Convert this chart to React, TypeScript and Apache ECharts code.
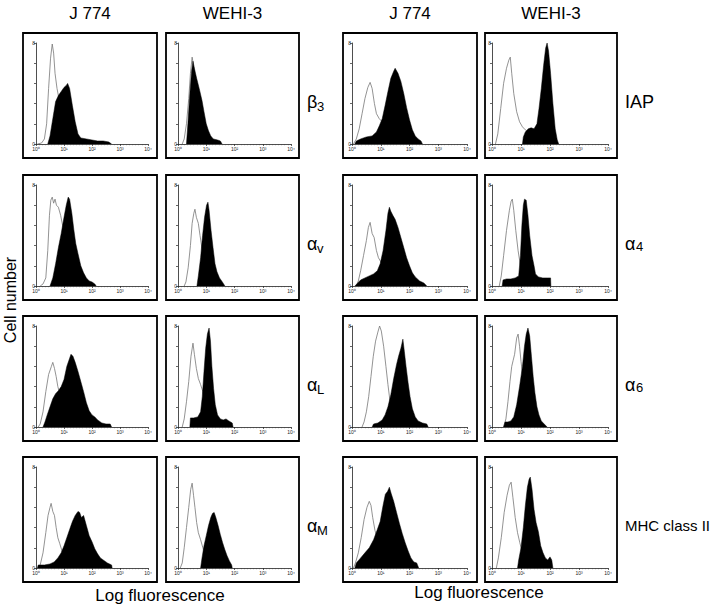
import React, { useEffect, useRef } from 'react';
import * as echarts from 'echarts';

const columnTitles = ['J 774', 'WEHI-3', 'J 774', 'WEHI-3'];
const rowMarkerBase = ['β', 'α', 'α', 'α'];
const rowMarkerSub = ['3', 'v', 'L', 'M'];
const rightMarkerBase = ['IAP', 'α', 'α', 'MHC class II'];
const rightMarkerSub = ['', '4', '6', ''];
const xTickLabels = ['10⁰', '10¹', '10²', '10³', '10⁴'];
const yTopLabel = '8';
const yBottomLabel = '0';
const xTitle = 'Log fluorescence';
const yTitle = 'Cell number';

// x = log decade (0..4), y = relative cell count (0..100)
// Row 1
const j774B3Ctrl = [[0.05,0],[0.2,1],[0.3,5],[0.38,20],[0.45,55],[0.52,85],[0.58,99],[0.63,90],[0.68,70],[0.75,55],[0.82,45],[0.9,35],[1.0,22],[1.1,12],[1.2,6],[1.4,2],[1.6,0]];
const j774B3Stain = [[0.42,0],[0.5,8],[0.6,25],[0.7,42],[0.8,48],[0.9,52],[1.0,56],[1.08,58],[1.13,60],[1.2,55],[1.3,38],[1.4,22],[1.5,10],[1.6,6],[1.8,5],[2.0,4],[2.2,3],[2.4,3],[2.6,2],[2.7,0]];
const wehiB3Ctrl = [[0.15,0],[0.22,5],[0.3,20],[0.38,45],[0.44,70],[0.5,86],[0.55,78],[0.62,60],[0.72,45],[0.82,30],[0.92,18],[1.02,8],[1.15,3],[1.3,0]];
const wehiB3Stain = [[0.3,0],[0.35,20],[0.42,50],[0.48,72],[0.53,82],[0.58,75],[0.66,65],[0.75,55],[0.85,43],[0.92,32],[1.0,20],[1.08,13],[1.16,8],[1.25,5],[1.4,4],[1.5,3],[1.56,0]];
const j774IapCtrl = [[0.05,0],[0.15,5],[0.25,15],[0.35,30],[0.45,45],[0.55,56],[0.63,61],[0.7,55],[0.78,40],[0.85,30],[0.95,25],[1.05,22],[1.15,15],[1.3,8],[1.5,3],[1.7,0]];
const j774IapStain = [[0.1,0],[0.15,3],[0.3,5],[0.5,7],[0.7,8],[0.85,12],[0.95,18],[1.05,25],[1.15,38],[1.25,52],[1.35,65],[1.45,72],[1.5,75],[1.6,70],[1.7,62],[1.8,50],[1.9,36],[2.0,24],[2.1,14],[2.2,8],[2.3,5],[2.4,3],[2.45,0]];
const wehiIapCtrl = [[0.12,0],[0.2,10],[0.3,35],[0.4,60],[0.5,75],[0.58,83],[0.63,86],[0.68,70],[0.75,50],[0.85,32],[0.95,22],[1.05,17],[1.15,14],[1.3,10],[1.5,6],[1.7,3],[1.9,0]];
const wehiIapStain = [[1.05,0],[1.08,7],[1.15,12],[1.25,15],[1.35,16],[1.45,15],[1.55,20],[1.62,35],[1.7,55],[1.78,78],[1.85,95],[1.9,100],[1.95,92],[2.02,70],[2.1,40],[2.18,15],[2.25,4],[2.3,0]];
// Row 2
const j774AvCtrl = [[0.15,0],[0.25,2],[0.35,8],[0.42,35],[0.48,70],[0.53,85],[0.58,88],[0.63,82],[0.68,86],[0.73,80],[0.8,78],[0.88,70],[0.95,60],[1.05,45],[1.15,30],[1.3,15],[1.5,5],[1.7,0]];
const j774AvStain = [[0.5,0],[0.6,8],[0.7,22],[0.8,38],[0.9,52],[1.0,68],[1.08,80],[1.15,88],[1.2,86],[1.28,72],[1.35,56],[1.42,42],[1.5,32],[1.6,20],[1.7,13],[1.8,8],[1.9,5],[2.0,4],[2.1,2],[2.15,0]];
const wehiAvCtrl = [[0.22,0],[0.28,4],[0.36,18],[0.44,40],[0.5,62],[0.56,72],[0.6,76],[0.65,68],[0.72,62],[0.78,50],[0.86,35],[0.96,20],[1.06,10],[1.2,4],[1.35,0]];
const wehiAvStain = [[0.67,0],[0.72,10],[0.8,28],[0.87,50],[0.94,68],[1.01,80],[1.06,83],[1.1,75],[1.17,55],[1.24,38],[1.31,22],[1.38,14],[1.47,8],[1.57,4],[1.66,0]];
const j774A4Ctrl = [[0.15,0],[0.22,5],[0.3,15],[0.4,30],[0.5,45],[0.57,58],[0.63,63],[0.7,52],[0.77,48],[0.85,35],[0.92,28],[1.0,24],[1.1,18],[1.25,10],[1.4,5],[1.6,0]];
const j774A4Stain = [[0.1,0],[0.2,3],[0.3,6],[0.45,8],[0.6,10],[0.75,12],[0.88,15],[0.98,22],[1.08,35],[1.18,55],[1.25,72],[1.3,78],[1.35,74],[1.42,70],[1.5,66],[1.6,58],[1.7,48],[1.8,38],[1.9,28],[2.0,20],[2.1,13],[2.2,9],[2.35,5],[2.5,3],[2.6,0]];
const wehiA4Ctrl = [[0.25,0],[0.32,10],[0.4,30],[0.5,55],[0.6,75],[0.66,84],[0.7,86],[0.75,75],[0.82,55],[0.9,35],[0.97,22],[1.05,12],[1.2,5],[1.4,0]];
const wehiA4Stain = [[0.35,0],[0.38,6],[0.5,7],[0.65,7],[0.8,8],[0.92,10],[0.98,30],[1.03,60],[1.08,80],[1.12,86],[1.18,85],[1.24,70],[1.3,50],[1.38,30],[1.45,20],[1.5,12],[1.6,9],[1.75,8],[1.9,8],[2.02,8],[2.03,0]];
// Row 3
const j774ALCtrl = [[0.08,0],[0.15,3],[0.25,15],[0.35,35],[0.45,52],[0.55,60],[0.6,64],[0.66,58],[0.72,50],[0.78,40],[0.85,33],[0.95,25],[1.1,15],[1.3,6],[1.5,2],[1.7,0]];
const j774ALStain = [[0.25,0],[0.32,5],[0.4,12],[0.5,20],[0.6,28],[0.7,33],[0.8,36],[0.9,40],[1.0,47],[1.1,60],[1.2,68],[1.25,72],[1.32,70],[1.4,64],[1.5,55],[1.6,45],[1.7,35],[1.8,24],[1.9,16],[2.0,12],[2.1,10],[2.2,7],[2.35,4],[2.5,3],[2.65,3],[2.7,0]];
const wehiALCtrl = [[0.15,0],[0.22,8],[0.3,25],[0.38,45],[0.46,70],[0.53,83],[0.58,72],[0.65,58],[0.72,48],[0.8,42],[0.88,35],[0.98,22],[1.12,10],[1.28,4],[1.45,0]];
const wehiALStain = [[0.42,0],[0.44,9],[0.55,9],[0.7,10],[0.8,15],[0.86,30],[0.92,55],[0.98,78],[1.04,92],[1.1,98],[1.15,85],[1.2,60],[1.26,38],[1.32,22],[1.4,12],[1.5,8],[1.6,7],[1.7,8],[1.8,6],[1.92,4],[1.95,0]];
const j774A6Ctrl = [[0.35,0],[0.42,5],[0.5,15],[0.58,30],[0.66,50],[0.74,70],[0.82,85],[0.9,94],[0.96,100],[1.02,95],[1.1,80],[1.18,60],[1.25,42],[1.32,26],[1.4,15],[1.5,8],[1.65,3],[1.8,0]];
const j774A6Stain = [[0.7,0],[0.75,3],[0.9,4],[1.05,7],[1.15,12],[1.25,20],[1.35,32],[1.45,48],[1.55,62],[1.62,70],[1.7,78],[1.77,87],[1.82,75],[1.88,60],[1.95,44],[2.02,30],[2.1,18],[2.2,10],[2.3,6],[2.45,4],[2.6,3],[2.65,0]];
const wehiA6Ctrl = [[0.4,0],[0.48,8],[0.55,25],[0.62,45],[0.68,60],[0.73,66],[0.78,72],[0.85,88],[0.9,92],[0.95,80],[1.0,65],[1.08,45],[1.15,30],[1.25,15],[1.4,6],[1.6,0]];
const wehiA6Stain = [[0.4,0],[0.45,5],[0.55,5],[0.65,6],[0.75,10],[0.85,22],[0.95,40],[1.05,60],[1.12,80],[1.18,92],[1.24,98],[1.3,90],[1.36,70],[1.42,50],[1.48,34],[1.55,20],[1.62,12],[1.7,6],[1.8,3],[1.9,0]];
// Row 4
const j774AMCtrl = [[0.08,0],[0.15,3],[0.25,15],[0.35,35],[0.43,52],[0.5,60],[0.54,64],[0.6,56],[0.66,52],[0.72,40],[0.78,30],[0.85,24],[0.95,15],[1.1,8],[1.3,3],[1.5,0]];
const j774AMStain = [[0.05,0],[0.08,3],[0.3,3],[0.5,4],[0.65,6],[0.78,10],[0.9,15],[1.0,22],[1.1,30],[1.2,38],[1.3,46],[1.4,52],[1.5,56],[1.56,55],[1.62,50],[1.7,52],[1.8,42],[1.9,32],[2.0,26],[2.1,19],[2.2,14],[2.3,10],[2.4,8],[2.55,5],[2.7,3],[2.72,0]];
const wehiAMCtrl = [[0.08,0],[0.15,5],[0.22,20],[0.3,40],[0.38,60],[0.45,78],[0.5,84],[0.55,72],[0.6,60],[0.66,45],[0.72,35],[0.8,28],[0.88,20],[1.0,10],[1.15,4],[1.3,0]];
const wehiAMStain = [[0.8,0],[0.85,10],[0.92,22],[1.0,32],[1.08,42],[1.16,50],[1.22,54],[1.28,55],[1.34,50],[1.42,42],[1.5,33],[1.58,25],[1.66,18],[1.74,12],[1.82,7],[1.9,3],[1.92,0]];
const j774MhcCtrl = [[0.05,0],[0.12,5],[0.22,15],[0.32,30],[0.42,48],[0.52,60],[0.6,66],[0.66,62],[0.72,50],[0.8,37],[0.9,28],[1.0,20],[1.15,10],[1.3,4],[1.5,0]];
const j774MhcStain = [[0.1,0],[0.15,5],[0.3,10],[0.45,15],[0.6,20],[0.75,28],[0.88,38],[0.98,46],[1.08,62],[1.16,73],[1.24,76],[1.3,80],[1.36,74],[1.45,66],[1.55,55],[1.65,44],[1.75,34],[1.85,25],[1.95,17],[2.05,10],[2.15,6],[2.25,5],[2.32,0]];
const wehiMhcCtrl = [[0.15,0],[0.22,10],[0.32,30],[0.42,55],[0.52,72],[0.6,82],[0.66,85],[0.72,70],[0.8,50],[0.88,35],[0.96,25],[1.05,15],[1.2,6],[1.4,0]];
const wehiMhcStain = [[0.88,0],[0.92,8],[1.0,20],[1.08,40],[1.15,62],[1.22,80],[1.28,88],[1.32,90],[1.38,78],[1.45,58],[1.52,45],[1.6,36],[1.68,22],[1.76,15],[1.84,10],[1.92,8],[2.0,11],[2.06,8],[2.1,0]];

const panels = [
  [j774B3Ctrl, j774B3Stain], [wehiB3Ctrl, wehiB3Stain], [j774IapCtrl, j774IapStain], [wehiIapCtrl, wehiIapStain],
  [j774AvCtrl, j774AvStain], [wehiAvCtrl, wehiAvStain], [j774A4Ctrl, j774A4Stain], [wehiA4Ctrl, wehiA4Stain],
  [j774ALCtrl, j774ALStain], [wehiALCtrl, wehiALStain], [j774A6Ctrl, j774A6Stain], [wehiA6Ctrl, wehiA6Stain],
  [j774AMCtrl, j774AMStain], [wehiAMCtrl, wehiAMStain], [j774MhcCtrl, j774MhcStain], [wehiMhcCtrl, wehiMhcStain],
];

// layout
const boxX = [23, 166, 343, 485];
const boxW = [134, 133, 134, 132];
const boxY = [33, 175, 316, 457];
const boxH = 125;
const plotOffX = [13, 12, 9, 7];
const plotW = [112, 113, 115, 116];
const plotOffY = 10;
const plotH = 101;
const FONT = 'Liberation Sans, Arial, Helvetica, sans-serif';

function txt(x: number, y: number, text: string, fontSize: number, extra: any = {}) {
  return {
    type: 'text', x, y, silent: true, ...extra,
    style: {
      text, fontSize, fontFamily: FONT, fill: '#000',
      align: extra.align || 'left', verticalAlign: 'middle',
      textAlign: extra.align || 'left', textVerticalAlign: 'middle',
    },
  };
}

export default function App() {
  const ref = useRef<HTMLDivElement>(null);
  useEffect(() => {
    if (!ref.current) return;
    const chart = echarts.init(ref.current, undefined, { renderer: 'svg' });
    const grid: any[] = [];
    const xAxis: any[] = [];
    const yAxis: any[] = [];
    const series: any[] = [];
    const graphic: any[] = [];
    panels.forEach((p, i) => {
      const r = Math.floor(i / 4);
      const c = i % 4;
      grid.push({ left: boxX[c] + plotOffX[c], top: boxY[r] + plotOffY, width: plotW[c], height: plotH });
      xAxis.push({
        gridIndex: i, type: 'value', min: 0, max: 4, interval: 1,
        axisLine: { show: true, lineStyle: { color: '#222', width: 0.8 } },
        axisTick: { show: true, length: 2, lineStyle: { color: '#222', width: 0.7 } },
        minorTick: { show: true, splitNumber: 9, length: 1.2, lineStyle: { color: '#444', width: 0.6 } },
        splitLine: { show: false },
        axisLabel: { fontSize: 5, margin: 2, color: '#222', fontFamily: FONT, formatter: (v: number) => xTickLabels[Math.round(v)] },
      });
      yAxis.push({
        gridIndex: i, type: 'value', min: 0, max: 100, interval: 20,
        axisLine: { show: true, lineStyle: { color: '#222', width: 0.8 } },
        axisTick: { show: true, length: 2, lineStyle: { color: '#222', width: 0.7 } },
        splitLine: { show: false },
        axisLabel: { fontSize: 5, margin: 1, color: '#222', fontFamily: FONT, formatter: (v: number) => (v === 0 ? yBottomLabel : v === 100 ? yTopLabel : '') },
      });
      series.push({
        type: 'line', xAxisIndex: i, yAxisIndex: i, data: p[0], showSymbol: false, z: 2,
        lineStyle: { color: '#777', width: 0.8 },
      });
      series.push({
        type: 'line', xAxisIndex: i, yAxisIndex: i, data: p[1], showSymbol: false, z: 3,
        lineStyle: { color: '#000', width: 0.5 }, areaStyle: { color: '#000', opacity: 1 },
      });
      graphic.push({
        type: 'rect', silent: true, z: 10,
        shape: { x: boxX[c], y: boxY[r], width: boxW[c], height: boxH },
        style: { fill: 'transparent', stroke: '#000', lineWidth: 1.8 },
      });
    });
    columnTitles.forEach((t, c) => {
      graphic.push(txt(boxX[c] + boxW[c] / 2, 13, t, 17, { align: 'center' }));
    });
    boxY.forEach((y, r) => {
      const cy = y + boxH / 2 + 6;
      graphic.push(txt(307, cy, rowMarkerBase[r], 18));
      graphic.push(txt(317, cy + 5, rowMarkerSub[r], 13));
      const rb = rightMarkerBase[r];
      graphic.push(txt(625, cy, rb, rb.length > 4 ? 15 : 18));
      if (rightMarkerSub[r]) graphic.push(txt(636, cy + 3, rightMarkerSub[r], 13));
    });
    graphic.push(txt(160, 595, xTitle, 17, { align: 'center' }));
    graphic.push(txt(479, 592, xTitle, 17, { align: 'center' }));
    graphic.push(txt(10, 300, yTitle, 16, { align: 'center', rotation: Math.PI / 2 }));

    chart.setOption({
      animation: false,
      backgroundColor: '#fff',
      grid, xAxis, yAxis, series, graphic,
    });
    return () => chart.dispose();
  }, []);
  return <div ref={ref} style={{ position: 'fixed', left: 0, top: 0, width: 720, height: 605 }} />;
}
